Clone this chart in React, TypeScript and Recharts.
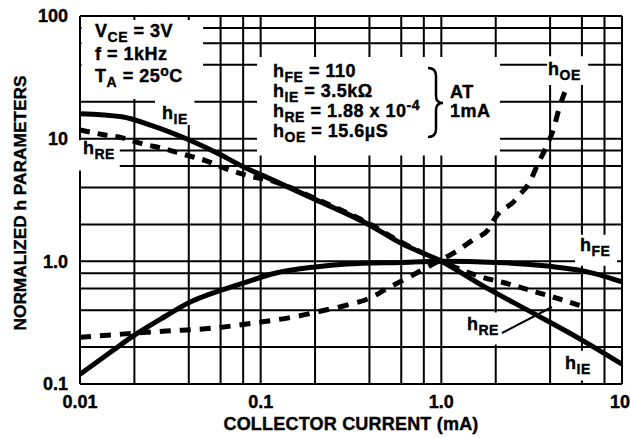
import React from 'react';
import { LineChart, Line, XAxis, YAxis, CartesianGrid, ReferenceArea } from 'recharts';

// Grid positions (1, 2, 4, 6, 8 per decade)
const gridCurrent = [0.01, 0.02, 0.04, 0.06, 0.08, 0.1, 0.2, 0.4, 0.6, 0.8, 1, 2, 4, 6, 8, 10];
const gridParam = [0.1, 0.2, 0.4, 0.6, 0.8, 1, 2, 4, 6, 8, 10, 20, 40, 60, 80, 100];

// Labelled ticks
const xDecades = [0.01, 0.1, 1, 10];
const xDecadeLabels = ['0.01', '0.1', '1.0', '10'];
const yDecades = [0.1, 1, 10, 100];
const yDecadeLabels = ['0.1', '1.0', '10', '100'];

// hFE (solid)
const hfeCurrent = [0.01, 0.015, 0.02, 0.03, 0.04, 0.06, 0.08, 0.12, 0.2, 0.3, 0.6, 1, 2, 4, 6, 10];
const hfeValue = [0.12, 0.185, 0.25, 0.36, 0.46, 0.58, 0.665, 0.8, 0.9, 0.95, 0.98, 1.0, 0.98, 0.91, 0.84, 0.68];

// hIE (solid)
const hieCurrent = [0.01, 0.017, 0.025, 0.04, 0.06, 0.08, 0.113, 0.2, 0.4, 0.6, 1, 1.7, 3.2, 6, 10];
const hieValue = [16, 15.1, 12.8, 9.8, 7.4, 5.9, 4.7, 3.2, 1.98, 1.4, 1.0, 0.63, 0.38, 0.228, 0.145];

// hRE (dashed)
const hreCurrent = [0.01, 0.0133, 0.017, 0.022, 0.029, 0.038, 0.05, 0.064, 0.085, 0.12, 0.2, 0.4, 0.6, 1, 1.3, 1.7, 2.4, 3.1, 4, 5, 6];
const hreValue = [11.8, 10.8, 10.2, 9.1, 8.3, 7.4, 6.6, 5.7, 5.0, 4.45, 3.25, 2.02, 1.43, 1.0, 0.85, 0.74, 0.65, 0.58, 0.52, 0.47, 0.43];

// hOE (dashed)
const hoeCurrent = [0.01, 0.017, 0.03, 0.054, 0.091, 0.16, 0.21, 0.3, 0.4, 0.51, 0.68, 0.91, 1.18, 1.5, 1.82, 2.0, 2.2, 2.45, 2.7, 3.1, 3.4, 3.8, 4.2, 4.45, 4.85];
const hoeValue = [0.24, 0.255, 0.27, 0.285, 0.314, 0.357, 0.39, 0.44, 0.5, 0.61, 0.76, 0.96, 1.18, 1.5, 1.82, 2.3, 2.65, 2.95, 3.45, 4.5, 6.1, 8.5, 12.3, 16.9, 24.6];

// White label backgrounds that cut the grid (data units)
const boxCurrent = [
  [0.0102, 0.048],
  [0.0955, 2.11],
  [0.026, 0.043],
  [0.0095, 0.0166],
  [3.85, 6.5],
  [5.5, 9.4],
  [1.32, 2.1],
  [4.6, 7.4],
];
const boxParam = [
  [21.1, 92.8],
  [7.3, 46.3],
  [12.9, 21.5],
  [5.5, 9.7],
  [27.4, 47],
  [0.92, 1.65],
  [0.21, 0.382],
  [0.107, 0.187],
];

const toPoints = (xs: number[], ys: number[]) => xs.map((x, i) => ({ x, y: ys[i] }));

const pick = (values: number[], labels: string[]) => (v: number) => {
  const i = values.findIndex(d => Math.abs(d - v) < 1e-9);
  return i >= 0 ? labels[i] : '';
};

const FONT = '"Liberation Sans", Arial, sans-serif';
const tickStyle = { fill: '#000', fontSize: 18, fontWeight: 700, fontFamily: FONT, stroke: '#000', strokeWidth: 0.4 };

const textProps = {
  fontFamily: FONT,
  fontWeight: 700,
  fontSize: 18,
  letterSpacing: 0.5,
  fill: '#000',
  stroke: '#000',
  strokeWidth: 0.4,
};

const xLabel = pick(xDecades, xDecadeLabels);

// x tick: the last label is pulled in so it stays on the page
const XTick = (props: any) => {
  const { x, y, payload, index } = props;
  const label = xLabel(payload.value);
  if (!label) return null;
  const last = index === gridCurrent.length - 1;
  return (
    <text x={last ? x + 8 : x} y={y} dy="0.71em" textAnchor={last ? 'end' : 'middle'} {...tickStyle}>
      {label}
    </text>
  );
};

// h with subscript, optional trailing text
const HLabel = ({ x, y, sub, rest }: { x: number; y: number; sub: string; rest?: React.ReactNode }) => (
  <text x={x} y={y} {...textProps}>
    <tspan>h</tspan>
    <tspan fontSize={14} dy={5}>{sub}</tspan>
    {rest ? <tspan dy={-5}>{rest}</tspan> : null}
  </text>
);

const Overlay = () => (
  <svg width={630} height={438} style={{ position: 'absolute', left: 0, top: 0, pointerEvents: 'none' }}>
    {/* conditions */}
    <text x={95} y={37} {...textProps}>
      <tspan>V</tspan>
      <tspan fontSize={14} dy={5}>CE</tspan>
      <tspan dy={-5}> = 3V</tspan>
    </text>
    <text x={95} y={60} {...textProps}>f = 1kHz</text>
    <text x={95} y={82} {...textProps}>
      <tspan>T</tspan>
      <tspan fontSize={14} dy={5}>A</tspan>
      <tspan dy={-5}> = 25</tspan>
      <tspan fontSize={14} dy={-6}>o</tspan>
      <tspan dy={6}>C</tspan>
    </text>

    <text x={450} y={98} {...textProps}>AT</text>
    <text x={450} y={117} {...textProps}>1mA</text>

    {/* axis titles */}
    <text x={351} y={430} {...textProps} letterSpacing={0.2} textAnchor="middle">COLLECTOR CURRENT (mA)</text>
    <text x={26} y={203} {...textProps} fontSize={17.3} letterSpacing={0} textAnchor="middle" transform="rotate(-90 26 203)">
      NORMALIZED h PARAMETERS
    </text>

    <HLabel x={273} y={77} sub="FE" rest=" = 110" />
    <HLabel x={273} y={97} sub="IE" rest=" = 3.5kΩ" />
    <text x={273} y={117} {...textProps}>
      <tspan>h</tspan>
      <tspan fontSize={14} dy={5}>RE</tspan>
      <tspan dy={-5}> = 1.88 x 10</tspan>
      <tspan fontSize={14} dy={-7}>-4</tspan>
    </text>
    <HLabel x={273} y={137} sub="OE" rest=" = 15.6µS" />

    <path
      d="M428 68 Q436 68 436 76 L436 96 Q436 103 443 103 Q436 103 436 110 L436 129 Q436 137 428 137"
      fill="none"
      stroke="#000"
      strokeWidth={2.5}
    />

    <HLabel x={548} y={75} sub="OE" />
    <HLabel x={162} y={119} sub="IE" />
    <HLabel x={83} y={154} sub="RE" />
    <HLabel x={580} y={251} sub="FE" />
    <HLabel x={467} y={330} sub="RE" />
    <HLabel x={565} y={369} sub="IE" />
    <line x1={502} y1={333} x2={552} y2={307} stroke="#000" strokeWidth={2} />
  </svg>
);

const App: React.FC = () => {
  return (
    <div style={{ position: 'fixed', left: 0, top: 0, width: 630, height: 438, background: '#fff' }}>
      <LineChart width={630} height={438} margin={{ top: 16, right: 8, bottom: 0, left: 0 }}>
        <CartesianGrid stroke="#000" strokeWidth={2} />
        <XAxis
          type="number"
          dataKey="x"
          scale="log"
          domain={[0.01, 10]}
          ticks={gridCurrent}
          interval={0}
          allowDataOverflow
          axisLine={false}
          tickLine={false}
          tickSize={6}
          tickMargin={5}
          height={54}
          tick={<XTick />}
        />
        <YAxis
          type="number"
          dataKey="y"
          scale="log"
          domain={[0.1, 100]}
          ticks={gridParam}
          interval={0}
          allowDataOverflow
          tickFormatter={pick(yDecades, yDecadeLabels)}
          axisLine={false}
          tickLine={false}
          tickSize={8}
          tickMargin={4}
          width={80}
          tick={tickStyle}
        />
        {boxCurrent.map((bx, i) => (
          <ReferenceArea
            key={`box-${i}`}
            x1={bx[0]}
            x2={bx[1]}
            y1={boxParam[i][0]}
            y2={boxParam[i][1]}
            fill="#fff"
            fillOpacity={1}
            stroke="none"
            ifOverflow="visible"
          />
        ))}
        <Line data={toPoints(hfeCurrent, hfeValue)} dataKey="y" type="monotone" stroke="#000" strokeWidth={5} dot={false} isAnimationActive={false} />
        <Line data={toPoints(hieCurrent, hieValue)} dataKey="y" type="monotone" stroke="#000" strokeWidth={5} dot={false} isAnimationActive={false} />
        <Line data={toPoints(hreCurrent, hreValue)} dataKey="y" type="monotone" stroke="#000" strokeWidth={5} strokeDasharray="10 8" dot={false} isAnimationActive={false} />
        <Line data={toPoints(hoeCurrent, hoeValue)} dataKey="y" type="monotone" stroke="#000" strokeWidth={5} strokeDasharray="11 9" dot={false} isAnimationActive={false} />
      </LineChart>
      <Overlay />
    </div>
  );
};

export default App;
